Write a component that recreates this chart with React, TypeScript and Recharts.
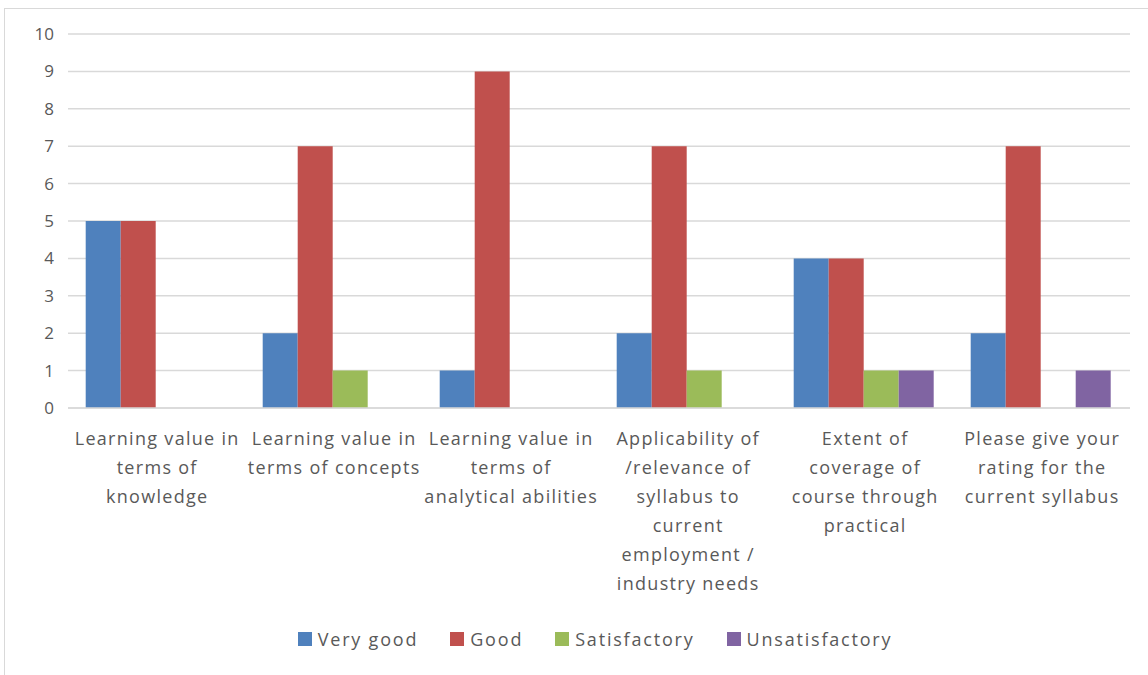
import React from 'react';
import { BarChart, Bar, XAxis, YAxis, CartesianGrid } from 'recharts';

const categories = [
  'Learning value in\nterms of\nknowledge',
  'Learning value in\nterms of concepts',
  'Learning value in\nterms of\nanalytical abilities',
  'Applicability of\n/relevance of\nsyllabus to\ncurrent\nemployment /\nindustry needs',
  'Extent of\ncoverage of\ncourse through\npractical',
  'Please give your\nrating for the\ncurrent syllabus',
];
const veryGood = [5, 2, 1, 2, 4, 2];
const good = [5, 7, 9, 7, 4, 7];
const satisfactory = [0, 1, 0, 1, 1, 0];
const unsatisfactory = [0, 0, 0, 0, 1, 1];
const yTicks = [0, 1, 2, 3, 4, 5, 6, 7, 8, 9, 10];

const seriesDefs = [
  { key: 'veryGood', name: 'Very good', color: '#4F81BD' },
  { key: 'good', name: 'Good', color: '#C0504D' },
  { key: 'satisfactory', name: 'Satisfactory', color: '#9BBB59' },
  { key: 'unsatisfactory', name: 'Unsatisfactory', color: '#8064A2' },
];

const data = categories.map((c, i) => ({
  category: c,
  veryGood: veryGood[i],
  good: good[i],
  satisfactory: satisfactory[i],
  unsatisfactory: unsatisfactory[i],
}));

const FONT = '"Open Sans", sans-serif';
const TEXT = '#595959';

const XTick = (props: any) => {
  const { x, y, payload } = props;
  const lines = String(payload.value).split('\n');
  return (
    <text x={x + 0.7} y={y} textAnchor="middle" fill={TEXT} fontFamily={FONT} fontSize={18} letterSpacing={1.3}>
      {lines.map((l, i) => (
        <tspan key={i} x={x + 0.7} dy={i === 0 ? 29 : 29}>
          {l}
        </tspan>
      ))}
    </text>
  );
};

const YTick = (props: any) => {
  const { y, payload } = props;
  return (
    <text x={54} y={y} dy={6} textAnchor="end" fill={TEXT} fontFamily={FONT} fontSize={17}>
      {payload.value}
    </text>
  );
};

const Legend2 = () => (
  <div
    style={{
      position: 'absolute',
      left: 0,
      top: 627,
      width: 1148,
      display: 'flex',
      justifyContent: 'center',
      fontFamily: FONT,
      fontSize: 18,
      letterSpacing: 1.8,
      color: TEXT,
      paddingLeft: 74,
      boxSizing: 'border-box',
    }}
  >
    {seriesDefs.map((s) => (
      <div key={s.key} style={{ display: 'flex', alignItems: 'center', marginRight: 32 }}>
        <span style={{ width: 14, height: 14, background: s.color, display: 'inline-block', marginRight: 6 }} />
        <span>{s.name}</span>
      </div>
    ))}
  </div>
);

export default function App() {
  return (
    <div style={{ position: 'absolute', left: 0, top: 0, width: 1148, height: 675, background: '#fff', overflow: 'hidden' }}>
      <div
        style={{
          position: 'absolute',
          left: 4,
          top: 8,
          width: 1160,
          height: 680,
          border: '1px solid #d9d9d9',
        }}
      />
      <div style={{ position: 'absolute', left: 0, top: 0 }}>
        <BarChart
          width={1148}
          height={675}
          data={data}
          margin={{ top: 34, right: 18, left: 0, bottom: 0 }}
          barCategoryGap="10%"
          barGap={0}
        >
          <CartesianGrid vertical={false} stroke="#d9d9d9" strokeWidth={1.5} />
          <XAxis
            dataKey="category"
            height={267}
            axisLine={{ stroke: '#d9d9d9', strokeWidth: 1.5 }}
            tickLine={false}
            tick={<XTick />}
            interval={0}
          />
          <YAxis
            width={68}
            domain={[0, 10]}
            ticks={yTicks}
            axisLine={false}
            tickLine={false}
            tick={<YTick />}
            interval={0}
          />
          {seriesDefs.map((s) => (
            <Bar key={s.key} dataKey={s.key} name={s.name} fill={s.color} isAnimationActive={false} />
          ))}
        </BarChart>
      </div>
      <Legend2 />
    </div>
  );
}
